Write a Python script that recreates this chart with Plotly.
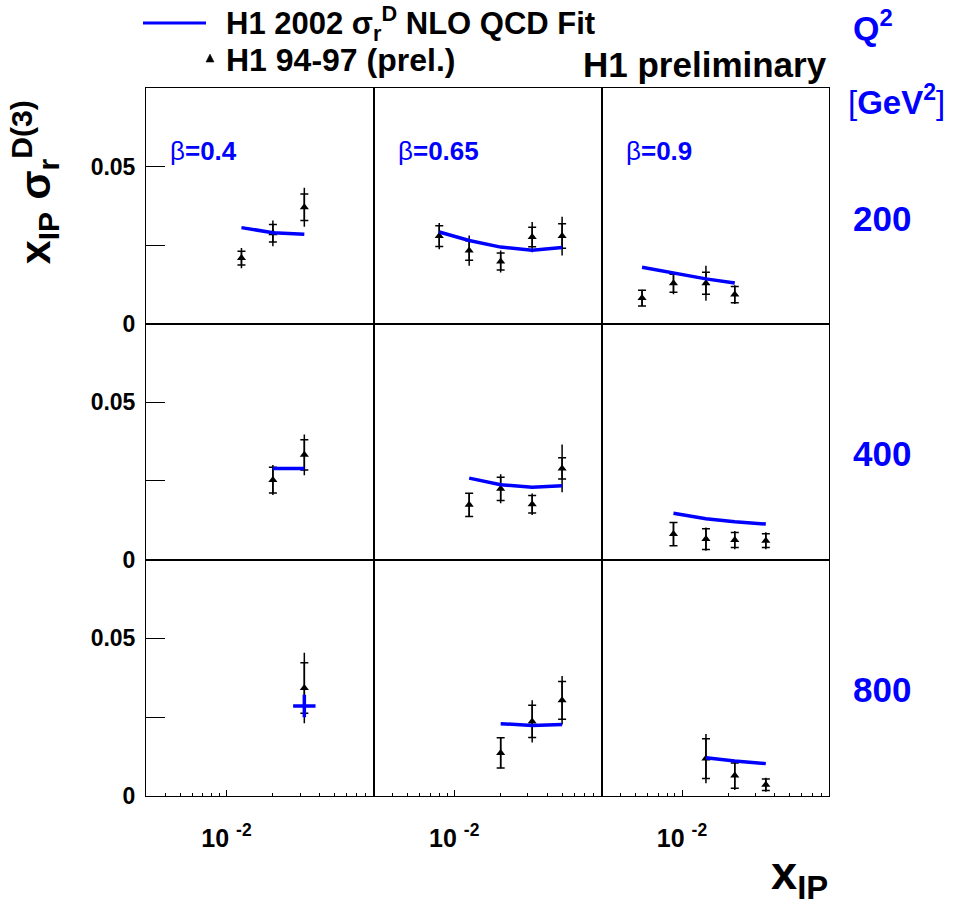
import plotly.graph_objects as go
import math

# ---------------- data ----------------
# rows: Q2 = 200, 400, 800 GeV^2 ; columns: beta = 0.4, 0.65, 0.9
Q2_LABELS = ["200", "400", "800"]
BETA_LABELS = ["0.4", "0.65", "0.9"]

# Q2 = 200
X_200_b040 = [0.0125, 0.020, 0.032]
Y_200_b040 = [0.0209, 0.0288, 0.0371]
STAT_200_b040 = [0.0022, 0.0028, 0.0042]
TOT_200_b040 = [0.0032, 0.0041, 0.0062]
FIT_200_b040 = [0.0306, 0.0290, 0.0285]

X_200_b065 = [0.008, 0.0125, 0.020, 0.032, 0.050]
Y_200_b065 = [0.0279, 0.0233, 0.0198, 0.0276, 0.0279]
STAT_200_b065 = [0.0033, 0.0031, 0.0027, 0.0031, 0.0039]
TOT_200_b065 = [0.0042, 0.0048, 0.0035, 0.0048, 0.0062]
FIT_200_b065 = [0.0292, 0.0265, 0.0244, 0.0234, 0.0243]

X_200_b090 = [0.0055, 0.0088, 0.0143, 0.022]
Y_200_b090 = [0.0082, 0.0129, 0.0129, 0.0093]
STAT_200_b090 = [0.0025, 0.0029, 0.0035, 0.0026]
TOT_200_b090 = [0.0026, 0.0035, 0.0056, 0.0030]
FIT_200_b090 = [0.0180, 0.0161, 0.0143, 0.0130]

# Q2 = 400
X_400_b040 = [0.020, 0.032]
Y_400_b040 = [0.0253, 0.0333]
STAT_400_b040 = [0.0041, 0.0048]
TOT_400_b040 = [0.0048, 0.0065]
FIT_400_b040 = [0.0290, 0.0290]

X_400_b065 = [0.0125, 0.020, 0.032, 0.050]
Y_400_b065 = [0.0174, 0.0225, 0.0176, 0.0290]
STAT_400_b065 = [0.0037, 0.0037, 0.0028, 0.0034]
TOT_400_b065 = [0.0038, 0.0046, 0.0034, 0.0076]
FIT_400_b065 = [0.0259, 0.0238, 0.0230, 0.0235]

X_400_b090 = [0.0088, 0.0143, 0.022, 0.035]
Y_400_b090 = [0.0081, 0.0065, 0.0062, 0.0060]
STAT_400_b090 = [0.0037, 0.0033, 0.0024, 0.0022]
TOT_400_b090 = [0.0038, 0.0037, 0.0029, 0.0027]
FIT_400_b090 = [0.0147, 0.0130, 0.0120, 0.0113]

# Q2 = 800
X_800_b040 = [0.032]
Y_800_b040 = [0.0342]
STAT_800_b040 = [0.0080]
TOT_800_b040 = [0.0112]
FIT_800_b040 = [0.0285]

X_800_b065 = [0.020, 0.032, 0.050]
Y_800_b065 = [0.0136, 0.0236, 0.0303]
STAT_800_b065 = [0.0048, 0.0051, 0.0060]
TOT_800_b065 = [0.0049, 0.0067, 0.0077]
FIT_800_b065 = [0.0229, 0.0223, 0.0226]

X_800_b090 = [0.0143, 0.022, 0.035]
Y_800_b090 = [0.0118, 0.0064, 0.0035]
STAT_800_b090 = [0.0063, 0.0040, 0.0018]
TOT_800_b090 = [0.0078, 0.0046, 0.0022]
FIT_800_b090 = [0.0121, 0.0110, 0.0102]

PANELS = [
    [(X_200_b040, Y_200_b040, STAT_200_b040, TOT_200_b040, FIT_200_b040),
     (X_200_b065, Y_200_b065, STAT_200_b065, TOT_200_b065, FIT_200_b065),
     (X_200_b090, Y_200_b090, STAT_200_b090, TOT_200_b090, FIT_200_b090)],
    [(X_400_b040, Y_400_b040, STAT_400_b040, TOT_400_b040, FIT_400_b040),
     (X_400_b065, Y_400_b065, STAT_400_b065, TOT_400_b065, FIT_400_b065),
     (X_400_b090, Y_400_b090, STAT_400_b090, TOT_400_b090, FIT_400_b090)],
    [(X_800_b040, Y_800_b040, STAT_800_b040, TOT_800_b040, FIT_800_b040),
     (X_800_b065, Y_800_b065, STAT_800_b065, TOT_800_b065, FIT_800_b065),
     (X_800_b090, Y_800_b090, STAT_800_b090, TOT_800_b090, FIT_800_b090)],
]

Y_TICKS = [0, 0.025, 0.05]
Y_TICKTEXT = ["<b>0</b>", "", "<b>0.05</b>"]
X_MAJOR = [0.01]
X_MINOR = [0.004, 0.005, 0.006, 0.007, 0.008, 0.009,
           0.02, 0.03, 0.04, 0.05, 0.06, 0.07, 0.08]
X_RANGE = [0.003, 0.09]
Y_RANGE = [0.0, 0.075]

# ---------------- layout helpers ----------------
W, H = 961, 907
KY = 1.0155  # vertical correction so rendered positions match the reference
FONT = "Liberation Sans, Arial, sans-serif"
BLUE = "#0000ff"
COL_EDGES = [146, 373.5, 601.5, 829]
ROW_EDGES = [88, 323.5, 559, 795]


def px(x):
    return x / W


def py(y):
    return max(0.0, 1 - (y * KY) / H)


fig = go.Figure()
layout = dict(
    width=W, height=H,
    margin=dict(l=0, r=0, t=0, b=0),
    paper_bgcolor="white", plot_bgcolor="white",
    showlegend=False,
    font=dict(family=FONT, color="black"),
)

for r in range(3):
    for c in range(3):
        n = r * 3 + c + 1
        xs, ys, st, tot, fit = PANELS[r][c]
        xname = "x" if n == 1 else f"x{n}"
        yname = "y" if n == 1 else f"y{n}"
        xkey = "xaxis" if n == 1 else f"xaxis{n}"
        ykey = "yaxis" if n == 1 else f"yaxis{n}"
        bottom = (r == 2)
        xaxis = dict(
            domain=[px(COL_EDGES[c]), px(COL_EDGES[c + 1])],
            anchor=yname, type="log",
            range=[math.log10(X_RANGE[0]), math.log10(X_RANGE[1])],
            showline=True, mirror=True, linecolor="black", linewidth=1,
            showgrid=False, zeroline=False,
        )
        if bottom:
            xaxis.update(
                tickmode="array", tickvals=X_MAJOR,
                ticktext=["<b>10 <sup>-2</sup></b>"],
                ticks="inside", ticklen=6, tickwidth=1.2, tickcolor="black",
                tickfont=dict(size=25, family=FONT, color="black"),
                ticklabelstandoff=20,
                minor=dict(tickmode="array", tickvals=X_MINOR, ticks="inside",
                           ticklen=3, tickwidth=1, tickcolor="black"),
            )
        else:
            xaxis.update(showticklabels=False, ticks="")
        yaxis = dict(
            domain=[py(ROW_EDGES[r + 1]), py(ROW_EDGES[r])],
            anchor=xname, range=Y_RANGE,
            showline=True, mirror=True, linecolor="black", linewidth=1,
            showgrid=False, zeroline=False,
        )
        if c == 0:
            yaxis.update(
                tickmode="array", tickvals=Y_TICKS, ticktext=Y_TICKTEXT,
                ticks="inside", ticklen=19, tickwidth=1.2, tickcolor="black",
                tickfont=dict(size=23, family=FONT, color="black"),
                ticklabelstandoff=5,
            )
        else:
            yaxis.update(showticklabels=False, ticks="")
        layout[xkey] = xaxis
        layout[ykey] = yaxis

        # total error (no caps)
        fig.add_trace(go.Scatter(
            x=xs, y=ys, xaxis=xname, yaxis=yname, mode="markers",
            marker=dict(size=1, color="black"),
            error_y=dict(type="data", array=tot, visible=True, width=0,
                         thickness=1.5, color="black"),
            hoverinfo="skip"))
        # statistical error (caps) + data markers
        fig.add_trace(go.Scatter(
            x=xs, y=ys, xaxis=xname, yaxis=yname, mode="markers",
            marker=dict(symbol="triangle-up", size=8, color="black"),
            error_y=dict(type="data", array=st, visible=True, width=4,
                         thickness=1.5, color="black"),
            name="H1 94-97 (prel.)"))
        # fit
        if len(fit) > 1:
            fig.add_trace(go.Scatter(
                x=xs, y=fit, xaxis=xname, yaxis=yname, mode="lines",
                line=dict(color=BLUE, width=3.5), name="H1 2002 fit"))
        else:
            fig.add_trace(go.Scatter(
                x=xs, y=fit, xaxis=xname, yaxis=yname, mode="markers",
                marker=dict(symbol="cross-thin", size=16,
                            line=dict(color=BLUE, width=3.5)),
                name="H1 2002 fit"))

annotations = []


def ann(text, x, y, size, color="black", xanchor="left", yanchor="middle",
        angle=0):
    annotations.append(dict(
        text=text, x=px(x), y=py(y), xref="paper", yref="paper",
        xanchor=xanchor, yanchor=yanchor, showarrow=False, textangle=angle,
        font=dict(size=size, color=color, family=FONT)))


# legend-like header
ann("<b>H1 2002 σ<sub>r</sub><sup>D</sup> NLO QCD Fit</b>", 224, 23, 31)
ann("<b>H1 94-97 (prel.)</b>", 224, 60, 32)
ann("<b>H1 preliminary</b>", 829, 64, 35, xanchor="right")
ann("<b>Q<sup>2</sup></b>", 851, 25, 34, color=BLUE)
ann("[<b>GeV<sup>2</sup></b>]", 846, 100, 33, color=BLUE)
for r, lab in enumerate(Q2_LABELS):
    ann(f"<b>{lab}</b>", 851, [218, 453, 689][r], 35, color=BLUE)
for c, lab in enumerate(BETA_LABELS):
    ann(f"β<b>={lab}</b>", COL_EDGES[c] + 22, 151, 26, color=BLUE)
ann("<b>x<sub>IP</sub> σ<sub>r</sub><sup>D(3)</sup></b>", 35, 182, 43,
    angle=-90, xanchor="center")
ann("<b>x<sub>IP</sub></b>", 830, 875, 47, xanchor="right")

layout["annotations"] = annotations
layout["shapes"] = [
    dict(type="line", xref="paper", yref="paper",
         x0=px(143), x1=px(206), y0=py(23), y1=py(23),
         line=dict(color=BLUE, width=3)),
    dict(type="path", xref="paper", yref="paper",
         path=f"M {px(206)} {py(62)} L {px(214)} {py(62)} L {px(210)} {py(54)} Z",
         fillcolor="black", line=dict(color="black", width=0.5)),
]

fig.update_layout(**layout)

POST = """
var de = document.documentElement, b = document.body;
de.style.margin = '0'; de.style.padding = '0'; de.style.overflow = 'hidden';
b.style.margin = '0'; b.style.padding = '0'; b.style.overflow = 'hidden';
"""

fig.write_html("out.html", config={"displayModeBar": False}, post_script=POST)
